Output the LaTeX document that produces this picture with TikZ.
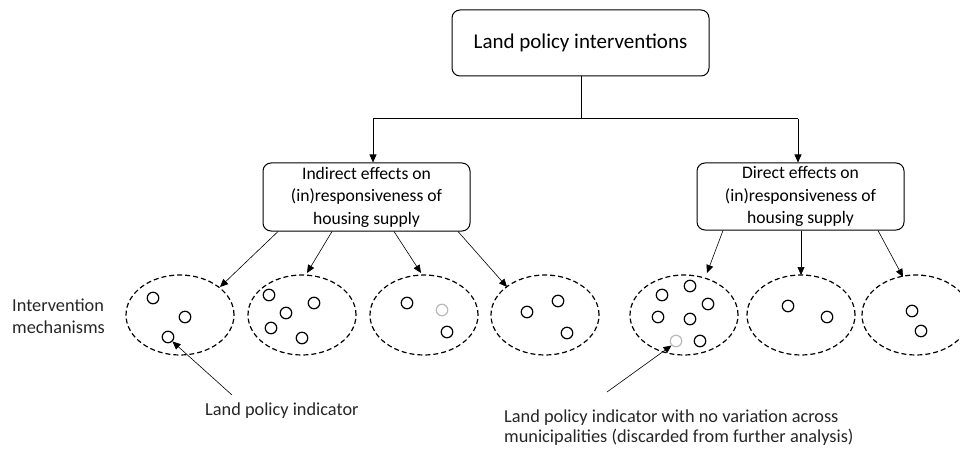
\documentclass[tikz,border=0pt]{standalone}
\usepackage{fontspec}
\setmainfont{Carlito}
\usetikzlibrary{arrows.meta,shapes.geometric}
\begin{document}
\begin{tikzpicture}[x=1pt,y=-1pt,
  box/.style={draw,rounded corners=8pt,line width=1pt,align=center,inner sep=0pt},
  grp/.style={draw,dashed,dash pattern=on 5pt off 3pt,line width=1.2pt,ellipse,minimum width=108pt,minimum height=80pt,inner sep=0pt},
  dot/.style={draw,circle,line width=1.2pt,minimum size=11.5pt,inner sep=0pt},
  gdot/.style={dot,draw=gray!55},
  arr/.style={-{Triangle[length=8pt,width=7pt]},line width=0.6pt},
  conn/.style={line width=1pt},
  lbl/.style={font=\fontsize{18.3}{20}\selectfont,text=black!85,align=left,inner sep=0pt}]
\useasboundingbox (0,0) rectangle (960,449);
% top
\node[box,minimum width=257pt,minimum height=66pt,font=\fontsize{21}{24}\selectfont] (top) at (580.5,43) {Land policy interventions};
\node[box,minimum width=207pt,minimum height=68pt,font=\fontsize{17.6}{22.5}\selectfont] (ind) at (366.5,197) {Indirect effects on\\(in)responsiveness of\\housing supply};
\node[box,minimum width=207pt,minimum height=67pt,font=\fontsize{17.6}{22.5}\selectfont] (dir) at (800.5,196.5) {Direct effects on\\(in)responsiveness of\\housing supply};
\coordinate (j) at (581,119);
\coordinate (jl) at (373,119);
\coordinate (jr) at (798,119);
\draw[conn] (top.south -| j) -- (j);
\draw[conn] (jl) -- (jr);
\draw[conn,arr] (jl) -- (jl |- ind.north);
\draw[conn,arr] (jr) -- (jr |- dir.north);
% ellipses
\node[grp] (e1) at (180,315) {};
\node[grp] (e2) at (302,315) {};
\node[grp] (e3) at (424,315) {};
\node[grp] (e4) at (545,315) {};
\node[grp] (e5) at (684,315) {};
\node[grp] (e6) at (801,315) {};
\node[grp] (e7) at (916,315) {};
% dots
\node[dot] (a1) at (153,298) {};
\node[dot] (a2) at (185,317) {};
\node[dot] (a3) at (168,337) {};
\node[dot] (b1) at (269,295) {};
\node[dot] (b2) at (314,303) {};
\node[dot] (b3) at (286,313) {};
\node[dot] (b4) at (271,328) {};
\node[dot] (b5) at (302,338) {};
\node[dot] (c1) at (407,303) {};
\node[gdot] (c2) at (442,310) {};
\node[dot] (c3) at (447,332) {};
\node[dot] (d1) at (527,312) {};
\node[dot] (d2) at (558,301) {};
\node[dot] (d3) at (567,333) {};
\node[dot] (f1) at (662,295) {};
\node[dot] (f2) at (690,286) {};
\node[dot] (f3) at (708,304) {};
\node[dot] (f4) at (658,317) {};
\node[dot] (f5) at (690,319) {};
\node[gdot] (f6) at (676,341) {};
\node[dot] (f7) at (700,341) {};
\node[dot] (g1) at (788,306) {};
\node[dot] (g2) at (827,317) {};
\node[dot] (h1) at (912,311) {};
\node[dot] (h2) at (921,331) {};
% connectors from boxes to ellipses
\coordinate (t1) at (220,287);
\coordinate (t2) at (307,273);
\coordinate (t3) at (421,273);
\coordinate (t4) at (507,287);
\coordinate (t5) at (707,273);
\coordinate (t6) at (801,275);
\coordinate (t7) at (903,277);
\draw[arr] (ind.south -| 278,0) -- (t1);
\draw[arr] (ind.south -| 332,0) -- (t2);
\draw[arr] (ind.south -| 394,0) -- (t3);
\draw[arr] (ind.south -| 458,0) -- (t4);
\draw[arr] (dir.south -| 723,0) -- (t5);
\draw[arr] (dir.south -| 801,0) -- (t6);
\draw[arr] (dir.south -| 878,0) -- (t7);
% labels
\node[lbl,anchor=west,font=\fontsize{18.3}{22}\selectfont] (im) at (12,316) {Intervention\\mechanisms};
\node[lbl,anchor=west] (lpi) at (205,411) {Land policy indicator};
\node[lbl,anchor=west] (lpn) at (504,427.5) {Land policy indicator with no variation across\\municipalities (discarded from further analysis)};
\coordinate (s1) at (232,395);
\coordinate (s2) at (607,392);
\draw[arr] (s1) -- (a3.south east);
\draw[arr] (s2) -- (f6.south west);
\end{tikzpicture}
\end{document}
